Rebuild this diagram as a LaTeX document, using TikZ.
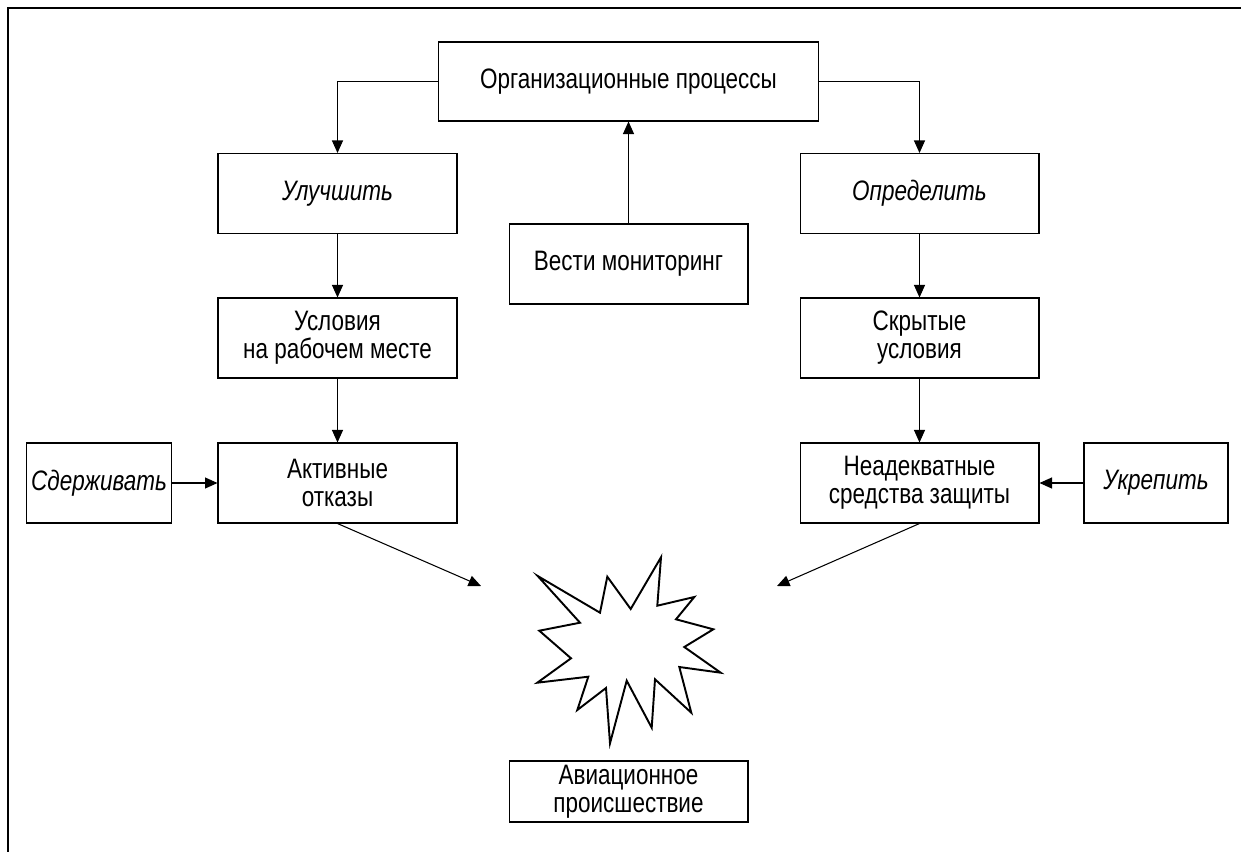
\documentclass[tikz,border=0pt]{standalone}
\usepackage{fontspec}
\setmainfont{Liberation Sans}[FakeStretch=0.8]
\usetikzlibrary{arrows.meta}
\tikzset{>={Triangle[length=0.25cm, width=0.22cm]}}
\tikzset{box/.style={draw, line width=0.6pt, inner sep=0pt, align=center,
    minimum width=4.78cm, minimum height=1.6cm, font=\fontsize{16}{16}\selectfont}}
\tikzset{act/.style={box, font=\fontsize{16}{16}\selectfont\itshape}}
\tikzset{link/.style={->, line width=0.6pt}}

\begin{document}
\begin{tikzpicture}[x=0.02cm, y=-0.02cm]
    \useasboundingbox(0, 0)rectangle(1241, 852);
    \draw[line width=0.8pt](1241, 8)--(8, 8)--(8, 852);
    % top row
    \node[box, minimum width=7.62cm, minimum height=1.58cm](org)at(628.5, 81.5){Организационные процессы};
    \node[act](improve)at(337.5, 193.5){Улучшить};
    \node[act](identify)at(919.5, 193.5){Определить};
    \node[box](monitor)at(628.5, 264){Вести мониторинг};
    % conditions
    \node[box](workplace)at(337.5, 338){Условия\\на рабочем месте};
    \node[box](latent)at(919.5, 338){Скрытые\\условия};
    % failures and defences
    \node[act, minimum width=2.9cm](restrain)at(99, 483){Сдерживать};
    \node[box](active)at(337.5, 483){Активные\\отказы};
    \node[box](defences)at(919.5, 483){Неадекватные\\средства защиты};
    \node[act, minimum width=2.88cm](reinforce)at(1156, 483){Укрепить};
    \node[box, minimum height=1.22cm](accident)at(628.5, 791.5){Авиационное\\происшествие};
    \coordinate(hitL)at(481, 586);
    \coordinate(hitR)at(777, 586);
    % connectors
    \draw[link](org.west)-|(improve.north);
    \draw[link](org.east)-|(identify.north);
    \draw[link](monitor.north)--(org.south);
    \draw[link](improve)--(workplace);
    \draw[link](workplace)--(active);
    \draw[link](identify)--(latent);
    \draw[link](latent)--(defences);
    \draw[link](restrain)--(active);
    \draw[link](reinforce)--(defences);
    \draw[link](active.south)--(hitL);
    \draw[link](defences.south)--(hitR);
    % burst
    \draw[line width=1.1pt, line join=miter](537.7, 576)--(600, 612.7)--(607.3, 576.7)--(630.7, 609)
        --(661, 557.3)--(657.3, 605.7)--(694.3, 597)--(676, 619.3)--(713.3, 629.3)
        --(684.3, 647)--(720.7, 672.7)--(679.3, 667)--(691.3, 712.7)--(655, 679.3)
        --(651.7, 727.7)--(626.7, 680.7)--(610, 743.3)--(606, 688)--(577.3, 710)
        --(588.3, 676.7)--(537.3, 682.7)--(571, 658.3)--(539.3, 630.7)--(580, 622.7)--cycle;
\end{tikzpicture}
\end{document}
